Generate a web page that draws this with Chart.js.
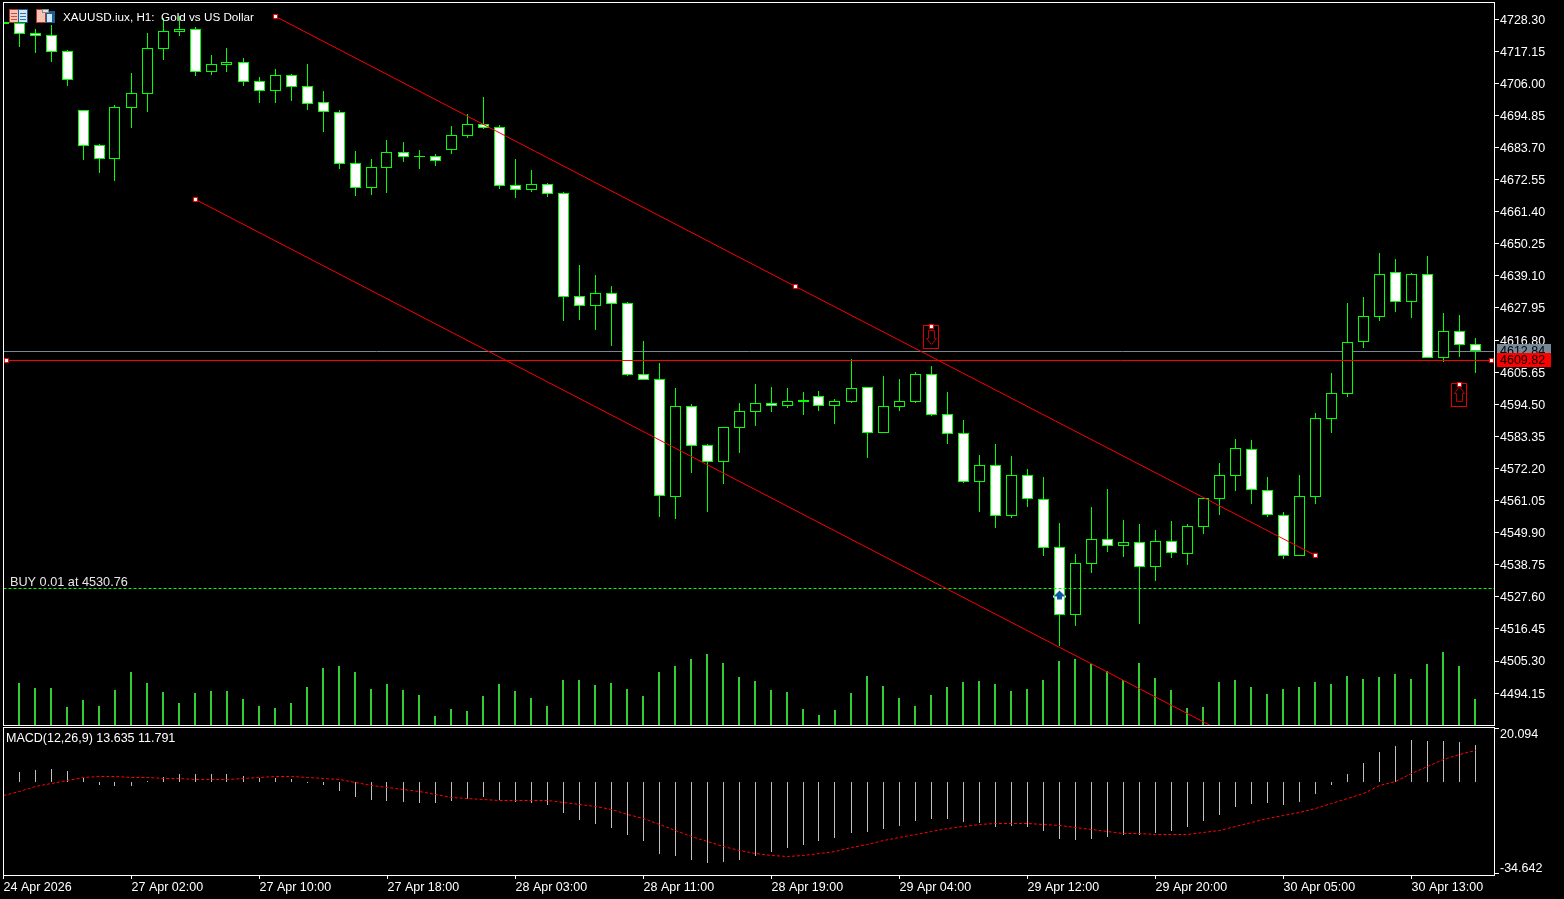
<!DOCTYPE html>
<html>
<head>
<meta charset="utf-8">
<title>XAUUSD.iux, H1</title>
<script src="https://cdn.jsdelivr.net/npm/chart.js@4"></script>
<style>
  html, body { margin: 0; background: #000; overflow: hidden; }
  canvas { position: absolute; left: 0; display: block; }
  #mainChart { top: 0; }
  #macdChart { top: 726px; }
</style>
</head>
<body>
<canvas id="mainChart" width="1564" height="726"></canvas>
<canvas id="macdChart" width="1564" height="173"></canvas>
<script>
/* global Chart */

const opens = [4726.6, 4727.0, 4723.5, 4722.8, 4717.2, 4696.7, 4684.6, 4679.7, 4697.4, 4702.3, 4717.9, 4723.8, 4724.9, 4709.9, 4712.4, 4713.4, 4706.8, 4703.3, 4708.9, 4705.1, 4699.5, 4696.0, 4678.3, 4669.6, 4676.6, 4682.1, 4680.4, 4680.8, 4682.8, 4687.7, 4691.9, 4690.8, 4670.7, 4668.9, 4671.0, 4667.9, 4632.1, 4628.6, 4633.2, 4629.7, 4605.0, 4603.3, 4562.3, 4593.9, 4580.4, 4574.4, 4586.3, 4591.8, 4594.9, 4593.9, 4595.3, 4597.4, 4593.9, 4595.3, 4600.5, 4584.5, 4593.6, 4595.3, 4605.0, 4591.1, 4584.5, 4567.5, 4573.4, 4555.7, 4569.9, 4561.6, 4544.9, 4521.3, 4539.0, 4547.7, 4545.3, 4546.7, 4538.0, 4547.0, 4542.5, 4551.9, 4561.6, 4569.6, 4579.0, 4564.7, 4556.0, 4541.8, 4562.3, 4589.4, 4598.1, 4616.1, 4624.8, 4640.5, 4630.0, 4639.8, 4610.6, 4620.0, 4615.4]
const highs = [4727.3, 4728.0, 4724.9, 4726.3, 4717.6, 4696.7, 4684.9, 4698.5, 4709.6, 4723.5, 4728.7, 4729.4, 4725.6, 4715.8, 4718.3, 4714.8, 4708.2, 4711.0, 4709.2, 4712.7, 4703.3, 4696.7, 4682.5, 4679.7, 4686.3, 4685.6, 4682.8, 4681.4, 4691.2, 4695.4, 4701.2, 4691.5, 4679.7, 4675.9, 4671.4, 4668.2, 4642.9, 4639.4, 4635.6, 4630.0, 4616.5, 4608.8, 4600.2, 4594.6, 4580.7, 4586.6, 4594.9, 4601.5, 4600.5, 4600.2, 4598.8, 4599.1, 4596.3, 4610.2, 4600.5, 4604.3, 4603.3, 4605.7, 4607.8, 4598.8, 4589.0, 4576.9, 4580.7, 4576.5, 4572.0, 4569.2, 4553.3, 4542.5, 4558.8, 4565.1, 4554.3, 4552.9, 4550.8, 4554.0, 4552.9, 4561.9, 4574.1, 4582.4, 4582.1, 4569.2, 4557.1, 4569.9, 4591.5, 4605.4, 4629.7, 4631.8, 4647.1, 4645.0, 4640.1, 4646.0, 4626.2, 4625.5, 4617.5]
const lows = [4726.6, 4718.6, 4716.5, 4713.4, 4705.1, 4679.4, 4674.9, 4672.1, 4690.5, 4696.0, 4714.1, 4722.4, 4708.5, 4708.9, 4709.9, 4705.1, 4699.2, 4699.2, 4699.9, 4696.7, 4689.1, 4676.2, 4666.9, 4667.2, 4667.9, 4678.7, 4676.2, 4677.3, 4681.4, 4687.0, 4690.1, 4669.3, 4666.2, 4668.2, 4666.5, 4623.4, 4623.8, 4620.3, 4614.7, 4604.3, 4602.9, 4555.3, 4554.6, 4570.6, 4557.1, 4566.8, 4577.6, 4587.0, 4591.8, 4593.2, 4590.8, 4592.2, 4587.6, 4594.9, 4575.8, 4584.5, 4592.2, 4594.9, 4590.4, 4580.7, 4567.2, 4557.1, 4551.5, 4555.0, 4558.8, 4541.8, 4510.5, 4517.5, 4535.9, 4543.2, 4541.5, 4518.2, 4533.1, 4541.1, 4538.7, 4549.4, 4556.0, 4564.4, 4559.9, 4555.3, 4540.8, 4541.8, 4559.9, 4584.5, 4597.0, 4614.0, 4623.4, 4626.6, 4624.5, 4610.6, 4609.2, 4610.9, 4605.4]
const closes = [4727.3, 4723.1, 4722.4, 4716.9, 4707.2, 4684.2, 4679.7, 4697.8, 4702.6, 4718.3, 4724.2, 4724.9, 4709.9, 4712.7, 4713.4, 4706.5, 4703.3, 4708.9, 4704.7, 4698.8, 4696.0, 4678.0, 4669.6, 4676.9, 4682.1, 4680.4, 4680.8, 4679.0, 4688.0, 4691.9, 4690.5, 4670.3, 4668.9, 4671.0, 4667.6, 4631.8, 4628.6, 4633.2, 4629.3, 4604.7, 4602.9, 4562.6, 4593.9, 4580.0, 4574.4, 4586.6, 4592.2, 4594.9, 4593.9, 4595.6, 4596.0, 4593.9, 4595.6, 4600.2, 4584.5, 4593.9, 4595.6, 4605.0, 4590.8, 4584.2, 4567.5, 4573.4, 4555.7, 4569.9, 4561.6, 4544.6, 4521.3, 4539.4, 4547.7, 4545.3, 4546.7, 4538.0, 4547.0, 4542.8, 4552.2, 4561.9, 4569.9, 4579.3, 4564.7, 4556.0, 4541.8, 4562.6, 4589.7, 4598.4, 4616.1, 4625.2, 4639.8, 4630.0, 4639.8, 4610.6, 4620.0, 4615.1, 4612.84]
const volumes = [3000, 4200, 3700, 3700, 1800, 2500, 1900, 3500, 5300, 4200, 3300, 2200, 3200, 3400, 3400, 2600, 1900, 1700, 2200, 3800, 5700, 5900, 5300, 3600, 4100, 3500, 3000, 900, 1600, 1400, 2900, 4100, 3400, 2700, 1900, 4500, 4500, 4000, 4200, 3600, 2900, 5300, 5900, 6600, 7100, 6200, 4800, 4400, 3500, 3300, 1600, 1000, 1500, 3200, 4900, 3900, 2700, 1900, 3000, 3800, 4300, 4400, 4100, 3400, 3600, 4500, 6400, 6600, 6100, 5400, 4500, 6200, 4700, 3500, 1700, 1800, 4300, 4500, 3800, 3100, 3600, 3800, 4300, 4100, 4900, 4600, 4800, 5100, 4600, 6100, 7300, 5900, 2600]
const macdHist = [3.0, 3.6, 4.35, 4.7, 4.0, 1.5, -1.3, -1.65, -1.65, 0.1, 1.7, 2.85, 2.85, 2.85, 2.85, 2.1, 1.35, 1.35, 0.97, -0.5, -1.3, -3.5, -5.8, -6.9, -7.3, -7.65, -8.0, -8.0, -7.3, -6.5, -5.8, -6.9, -7.65, -8.0, -8.8, -11.8, -14.4, -15.9, -17.4, -20.0, -22.3, -27.1, -27.9, -29.4, -30.5, -30.1, -29.4, -27.9, -26.4, -24.9, -23.8, -22.3, -21.1, -19.3, -18.9, -17.8, -16.6, -14.8, -14.0, -14.0, -15.2, -15.5, -17.0, -16.6, -17.0, -18.5, -21.5, -21.9, -21.5, -20.8, -20.0, -20.0, -19.3, -18.5, -17.0, -14.8, -12.5, -9.5, -8.4, -8.0, -8.8, -7.65, -4.65, -1.3, 2.85, 7.0, 11.1, 13.35, 15.6, 15.2, 15.2, 14.85, 13.635]
const macdSignal = [-5.4, -3.9, -2.0, -0.65, 0.5, 1.7, 2.0, 2.0, 1.6, 1.6, 1.2, 1.2, 0.85, 0.85, 0.85, 1.2, 1.6, 2.0, 2.0, 1.6, 1.2, 0.85, -0.3, -1.4, -2.15, -3.15, -3.9, -5.0, -5.8, -6.5, -6.65, -7.0, -7.0, -7.0, -7.0, -7.8, -8.5, -9.3, -10.4, -12.15, -14.0, -16.0, -18.3, -20.5, -22.4, -24.3, -25.8, -26.9, -27.65, -28.0, -27.65, -27.0, -26.15, -24.65, -23.5, -22.0, -20.9, -19.8, -18.65, -17.65, -16.8, -15.9, -15.65, -15.65, -15.65, -15.9, -16.4, -17.15, -17.9, -18.65, -19.4, -19.4, -19.8, -19.8, -19.65, -19.0, -18.15, -16.65, -15.4, -13.9, -12.65, -11.65, -10.0, -8.15, -6.3, -4.3, -1.65, 0.2, 2.85, 5.5, 8.35, 10.0, 11.791]

const priceTicks = [4728.30, 4717.15, 4706.00, 4694.85, 4683.70, 4672.55, 4661.40, 4650.25, 4639.10, 4627.95, 4616.80, 4605.65, 4594.50, 4583.35, 4572.20, 4561.05, 4549.90, 4538.75, 4527.60, 4516.45, 4505.30, 4494.15]
const macdTicks = [20.094, -34.642]
const timeTicks = [0, 8, 16, 24, 32, 40, 48, 56, 64, 72, 80, 88]
const timeLabels = ['24 Apr 2026', '27 Apr 02:00', '27 Apr 10:00', '27 Apr 18:00', '28 Apr 03:00', '28 Apr 11:00', '28 Apr 19:00', '29 Apr 04:00', '29 Apr 12:00', '29 Apr 20:00', '30 Apr 05:00', '30 Apr 13:00']

// drawn objects on the chart: index on the time axis, then price
const upperChannelX = [17, 49.5, 82]
const upperChannelY = [4729.2, 4635.4, 4542.0]
const lowerChannelX = [12, 77]
const lowerChannelY = [4665.6, 4478.4]
const bidPrice = 4612.84
const alertPrice = 4609.82
const alertAnchorsX = [0.19, 93]
const buyPrice = 4530.76
const buyMarker = { x: 66, y: 4528.2 }
const sellSignal = { x: 58, y: 4621.5 }
const buySignal = { x: 91, y: 4601.4 }

const xMin = -0.03125
const xMax = 93.21875
const FONT = '12.5px "Liberation Sans"'
const WHITE = '#ffffff'
const RED = '#ff0000'
const ANCHOR_RADIUS = 2.83

const toPoints = (xs, ys) => xs.map((x, i) => ({ x, y: ys[i] }))
const perIndex = (values) => values.map((y, x) => ({ x, y }))

// the terminal draws on whole pixels, so bars and lines get snapped after layout
const snapPlugin = {
  id: 'snap',
  afterDatasetsUpdate (chart) {
    chart.data.datasets.forEach((ds, i) => {
      chart.getDatasetMeta(i).data.forEach((el) => {
        if (ds.type === 'line') {
          const snapY = ds.roundY ? Math.round : Math.floor
          el.x = Math.floor(el.x) + 0.5
          el.y = snapY(el.y) + 0.5
          return
        }
        el.x = Math.floor(el.x - el.width / 2) + el.width / 2
        el.y = Math.round(el.y)
        el.base = Math.round(el.base)
        if (el.y === el.base) el.base += 1
      })
    })
  }
}

const fixedAxis = (size) => (scale) => {
  if (scale.isHorizontal()) scale.height = size
  else scale.width = size
  scale.paddingTop = scale.paddingBottom = scale.paddingLeft = scale.paddingRight = 0
}

function drawText (ctx, text, x, y, color, font) {
  ctx.font = font || FONT
  ctx.textBaseline = 'middle'
  ctx.textAlign = 'left'
  ctx.fillStyle = color
  ctx.fillText(text, x, y)
}

function drawPriceTag (ctx, scale, price, color) {
  const y = Math.floor(scale.getPixelForValue(price))
  ctx.fillStyle = color
  ctx.fillRect(1497, y - 7, 54, 14)
  drawText(ctx, price.toFixed(2), 1500, y + 1, '#000000')
}

function drawSymbolIcons (ctx) {
  ctx.fillStyle = '#a83c2c'
  ctx.fillRect(9, 9, 10, 14)
  ctx.fillStyle = '#f4c3b5'
  ctx.fillRect(10, 10, 8, 12)
  ctx.fillStyle = '#1d5c94'
  ctx.fillRect(18, 9, 10, 14)
  ctx.fillStyle = '#d5e6f4'
  ctx.fillRect(19, 10, 8, 12)
  ctx.fillStyle = '#c8503c'
  ctx.fillRect(11, 13, 6, 1)
  ctx.fillRect(11, 16, 6, 1)
  ctx.fillRect(11, 19, 6, 1)
  ctx.fillStyle = '#2e74b0'
  ctx.fillRect(20, 13, 6, 1)
  ctx.fillRect(20, 16, 6, 1)
  ctx.fillRect(20, 19, 6, 1)

  ctx.fillStyle = '#a83c2c'
  ctx.fillRect(36, 9, 10, 14)
  ctx.fillStyle = '#f4c3b5'
  ctx.fillRect(37, 10, 8, 12)
  ctx.fillStyle = '#1d5c94'
  ctx.fillRect(46, 11, 9, 12)
  ctx.fillStyle = '#d5e6f4'
  ctx.fillRect(47, 14, 5, 8)
  ctx.fillStyle = '#8a8a8a'
  ctx.fillRect(42, 9, 7, 4)
  ctx.fillStyle = '#e0e0e0'
  ctx.fillRect(43, 10, 5, 2)
}

function drawBoxedArrow (ctx, x, y, up) {
  ctx.strokeStyle = '#e00000'
  ctx.lineWidth = 1
  ctx.strokeRect(x - 8, y - 1, 15, 23)
  ctx.strokeStyle = '#b80000'
  ctx.beginPath()
  if (up) {
    ctx.moveTo(x, y + 2)
    ctx.lineTo(x + 5, y + 9)
    ctx.lineTo(x + 3, y + 9)
    ctx.lineTo(x + 3, y + 17)
    ctx.lineTo(x - 3, y + 17)
    ctx.lineTo(x - 3, y + 9)
    ctx.lineTo(x - 5, y + 9)
  } else {
    ctx.moveTo(x, y + 18)
    ctx.lineTo(x + 5, y + 12)
    ctx.lineTo(x + 3, y + 12)
    ctx.lineTo(x + 3, y + 4)
    ctx.lineTo(x - 3, y + 4)
    ctx.lineTo(x - 3, y + 12)
    ctx.lineTo(x - 5, y + 12)
  }
  ctx.closePath()
  ctx.stroke()
}

function drawBuyMarker (ctx, x, y) {
  ctx.fillStyle = '#ffffff'
  ctx.fillRect(x - 6.5, y, 13, 2)
  ctx.fillStyle = '#0a5aa0'
  ctx.beginPath()
  ctx.moveTo(x, y - 5)
  ctx.lineTo(x + 6, y + 1)
  ctx.lineTo(x + 2.5, y + 1)
  ctx.lineTo(x + 2.5, y + 4)
  ctx.lineTo(x - 2.5, y + 4)
  ctx.lineTo(x - 2.5, y + 1)
  ctx.lineTo(x - 6, y + 1)
  ctx.closePath()
  ctx.fill()
}

const mainOverlay = {
  id: 'mainOverlay',
  afterDraw (chart) {
    const { ctx, scales } = chart
    const px = (x) => Math.floor(scales.x.getPixelForValue(x)) + 0.5
    const py = (y) => Math.floor(scales.y.getPixelForValue(y)) + 0.5
    ctx.save()
    drawBuyMarker(ctx, px(buyMarker.x), py(buyMarker.y))
    drawBoxedArrow(ctx, px(sellSignal.x), py(sellSignal.y), false)
    drawBoxedArrow(ctx, px(buySignal.x), py(buySignal.y), true)
    for (const s of [sellSignal, buySignal]) {
      ctx.fillStyle = WHITE
      ctx.strokeStyle = RED
      ctx.fillRect(px(s.x) - 2, py(s.y) - 2, 4, 4)
      ctx.strokeRect(px(s.x) - 2, py(s.y) - 2, 4, 4)
    }
    ctx.strokeStyle = WHITE
    ctx.lineWidth = 1
    ctx.strokeRect(3.5, 2.5, 1491, 723)
    drawPriceTag(ctx, scales.y, bidPrice, '#778899')
    drawPriceTag(ctx, scales.y, alertPrice, RED)
    drawSymbolIcons(ctx)
    drawText(ctx, 'XAUUSD.iux, H1:  Gold vs US Dollar', 63, 17.5, WHITE, '11.7px "Liberation Sans"')
    drawText(ctx, 'BUY 0.01 at ' + buyPrice.toFixed(2), 10, 582.5, '#e8e8e8', '12.7px "Liberation Sans"')
    ctx.restore()
  }
}

const macdOverlay = {
  id: 'macdOverlay',
  afterDraw (chart) {
    const { ctx, scales } = chart
    ctx.save()
    ctx.strokeStyle = WHITE
    ctx.lineWidth = 1
    ctx.strokeRect(3.5, 1.5, 1491, 148)
    drawText(ctx, 'MACD(12,26,9) ' + macdHist[macdHist.length - 1].toFixed(3) + ' ' + macdSignal[macdSignal.length - 1].toFixed(3), 6, 13, WHITE)
    drawText(ctx, macdTicks[0].toFixed(3), 1500, scales.y.getPixelForValue(macdTicks[0]) + 7, WHITE)
    drawText(ctx, macdTicks[1].toFixed(3), 1500, scales.y.getPixelForValue(macdTicks[1]) - 5, WHITE)
    ctx.restore()
  }
}

const hLine = (y, color, order, extra) => ({
  type: 'line',
  data: [{ x: xMin, y }, { x: xMax, y }],
  borderColor: color,
  borderWidth: 1,
  pointRadius: 0,
  roundY: true,
  order,
  ...extra
})

const anchorStyle = {
  pointStyle: 'rect',
  pointBackgroundColor: WHITE,
  pointBorderColor: RED,
  pointBorderWidth: 1
}

const barBase = { type: 'bar', grouped: false, inflateAmount: 0, borderSkipped: false }

// eslint-disable-next-line no-unused-vars
const mainChart = new Chart(document.getElementById('mainChart').getContext('2d'), {
  type: 'bar',
  data: {
    datasets: [
      {
        ...barBase,
        data: perIndex(volumes),
        yAxisID: 'yVol',
        barThickness: 2,
        backgroundColor: '#32cd32',
        order: 10
      },
      hLine(bidPrice, '#778899', 9),
      {
        ...barBase,
        data: opens.map((o, x) => ({ x, y: [lows[x], highs[x]] })),
        barThickness: 1,
        backgroundColor: '#00ff00',
        order: 8
      },
      {
        ...barBase,
        data: opens.map((o, x) => ({ x, y: [o, closes[x]] })),
        barThickness: 11,
        borderWidth: 1,
        borderColor: '#00ff00',
        backgroundColor: opens.map((o, x) => (closes[x] > o ? '#000000' : '#ffffff')),
        order: 7
      },
      hLine(buyPrice, '#00ff00', 6, { borderDash: [3, 2] }),
      {
        type: 'line',
        data: toPoints(upperChannelX, upperChannelY),
        borderColor: RED,
        borderWidth: 1,
        pointRadius: ANCHOR_RADIUS,
        order: 5,
        ...anchorStyle
      },
      {
        type: 'line',
        data: toPoints(lowerChannelX, lowerChannelY),
        borderColor: RED,
        borderWidth: 1,
        pointRadius: [ANCHOR_RADIUS, 0],
        order: 4,
        ...anchorStyle
      },
      {
        type: 'line',
        data: [
          { x: xMin, y: alertPrice },
          { x: alertAnchorsX[0], y: alertPrice },
          { x: alertAnchorsX[1], y: alertPrice },
          { x: xMax, y: alertPrice }
        ],
        borderColor: RED,
        borderWidth: 1,
        pointRadius: [0, ANCHOR_RADIUS, ANCHOR_RADIUS, 0],
        order: 3,
        ...anchorStyle
      }
    ]
  },
  options: {
    responsive: false,
    animation: false,
    devicePixelRatio: 1,
    events: [],
    layout: { autoPadding: false, padding: { left: 3, right: 0, top: 3, bottom: 1 } },
    plugins: { legend: { display: false }, tooltip: { enabled: false } },
    scales: {
      x: { type: 'linear', offset: false, min: xMin, max: xMax, display: false },
      y: {
        type: 'linear',
        position: 'right',
        min: 4483.08,
        max: 4733.91,
        afterBuildTicks: (scale) => { scale.ticks = priceTicks.map((value) => ({ value })) },
        afterFit: fixedAxis(69),
        border: { display: false },
        grid: { drawOnChartArea: false, drawTicks: true, tickLength: 4, color: WHITE },
        ticks: {
          color: WHITE,
          padding: 1,
          labelOffset: 1,
          autoSkip: false,
          font: { family: 'Liberation Sans', size: 12.5 },
          callback: (v) => v.toFixed(2)
        }
      },
      yVol: { type: 'linear', position: 'left', min: 0, max: 72200, display: false }
    }
  },
  plugins: [snapPlugin, mainOverlay]
})

// eslint-disable-next-line no-unused-vars
const macdChart = new Chart(document.getElementById('macdChart').getContext('2d'), {
  type: 'bar',
  data: {
    datasets: [
      {
        ...barBase,
        data: perIndex(macdHist),
        barThickness: 1,
        backgroundColor: '#c0c0c0',
        order: 2
      },
      {
        type: 'line',
        data: perIndex(macdSignal),
        borderColor: RED,
        borderWidth: 1,
        borderDash: [3, 2],
        pointRadius: 0,
        order: 1
      }
    ]
  },
  options: {
    responsive: false,
    animation: false,
    devicePixelRatio: 1,
    events: [],
    layout: { autoPadding: false, padding: { left: 3, right: 0, top: 2, bottom: 0 } },
    plugins: { legend: { display: false }, tooltip: { enabled: false } },
    scales: {
      x: {
        type: 'linear',
        offset: false,
        min: xMin,
        max: xMax,
        afterBuildTicks: (scale) => { scale.ticks = timeTicks.map((value) => ({ value })) },
        afterFit: fixedAxis(24),
        border: { display: false },
        grid: { offset: false, drawOnChartArea: false, drawTicks: true, tickLength: 4, color: WHITE },
        ticks: {
          color: WHITE,
          padding: 1,
          align: 'start',
          autoSkip: false,
          maxRotation: 0,
          font: { family: 'Liberation Sans', size: 12.5 },
          callback: (v) => timeLabels[timeTicks.indexOf(v)]
        }
      },
      y: {
        type: 'linear',
        position: 'right',
        min: -35.02,
        max: 20.094,
        afterBuildTicks: (scale) => { scale.ticks = macdTicks.map((value) => ({ value })) },
        afterFit: fixedAxis(69),
        border: { display: false },
        grid: { drawOnChartArea: false, drawTicks: true, tickLength: 4, color: WHITE },
        ticks: { color: WHITE, padding: 1, autoSkip: false, callback: () => '' }
      }
    }
  },
  plugins: [snapPlugin, macdOverlay]
})
</script>
</body>
</html>
